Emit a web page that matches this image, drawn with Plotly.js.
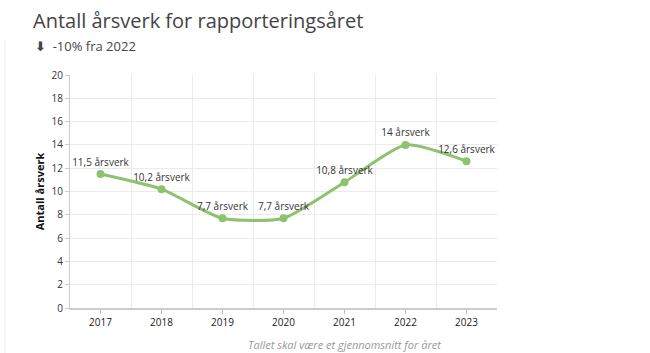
<!DOCTYPE html>
<html>
<head>
<meta charset="utf-8">
<script src="https://cdn.plot.ly/plotly-3.0.1.min.js"></script>
<style>html,body{margin:0;padding:0;background:#fff;}#chart{width:650px;height:353px;}</style>
</head>
<body>
<div id="chart"></div>
<script>
const years = ["2017", "2018", "2019", "2020", "2021", "2022", "2023"];
const arsverk = [11.5, 10.2, 7.7, 7.7, 10.8, 14, 12.6];
const unit = "årsverk";
const yTicks = [0, 2, 4, 6, 8, 10, 12, 14, 16, 18, 20];

const labels = arsverk.map(v => String(v).replace('.', ',') + ' ' + unit);
const green = '#8dc26f';
const font = '"Open Sans", "DejaVu Sans", sans-serif';

const traces = [
  {
    x: years, y: arsverk, type: 'scatter', mode: 'lines+markers+text',
    line: {shape: 'spline', smoothing: 0.6, color: green, width: 3},
    marker: {color: green, size: 8},
    text: labels, textposition: 'top center',
    textfont: {family: font, size: 10, color: '#333'},
    cliponaxis: false, hoverinfo: 'skip', showlegend: false
  },
  {
    x: years, y: arsverk, xaxis: 'x2', type: 'scatter', mode: 'markers',
    marker: {opacity: 0, size: 1}, hoverinfo: 'skip', showlegend: false
  }
];

const layout = {
  width: 650, height: 353,
  margin: {l: 70, r: 153, t: 75, b: 45},
  paper_bgcolor: '#fff', plot_bgcolor: '#fff',
  font: {family: font, color: '#333'},
  title: {
    text: 'Antall årsverk for rapporteringsåret',
    xref: 'container', x: 33 / 650, xanchor: 'left',
    yref: 'container', y: 1 - 21 / 353, yanchor: 'middle',
    font: {family: font, size: 20, color: '#444'},
    pad: {l: 0, t: 0, b: 0, r: 0}
  },
  xaxis: {
    type: 'category', range: [-0.5, 6.5], showgrid: false,
    ticks: 'outside', ticklen: 4, tickcolor: '#bbb',
    showline: true, linecolor: '#ccc', linewidth: 2,
    tickfont: {family: font, size: 10, color: '#222'},
    zeroline: false, fixedrange: true
  },
  xaxis2: {
    type: 'category', overlaying: 'x', matches: 'x', range: [-0.5, 6.5],
    tickson: 'boundaries', showgrid: true, gridcolor: '#ebebeb', gridwidth: 1,
    showticklabels: false, ticks: '', showline: false, zeroline: false
  },
  yaxis: {
    range: [0, 20], tickvals: yTicks, showgrid: true, gridcolor: '#ebebeb',
    ticks: 'outside', ticklen: 4, tickcolor: '#ccc',
    showline: true, linecolor: '#ccc', linewidth: 1, zeroline: false,
    tickfont: {family: font, size: 10, color: '#333'},
    title: {text: '<b>Antall årsverk</b>', font: {family: font, size: 11, color: '#111'}, standoff: 4},
    fixedrange: true
  },
  annotations: [
    {
      text: '<b>⬇</b>  -10% fra 2022', xref: 'paper', yref: 'paper',
      x: -0.087, xanchor: 'left', y: 1.124, yanchor: 'middle', showarrow: false,
      font: {family: font, size: 13, color: '#444'}
    },
    {
      text: '<i>Tallet skal være et gjennomsnitt for året</i>', xref: 'paper', yref: 'paper',
      x: 0.642, xanchor: 'center', y: -0.155, yanchor: 'middle', showarrow: false,
      font: {family: font, size: 11, color: '#999'}
    }
  ],
  shapes: [
    {type: 'line', xref: 'paper', yref: 'paper', x0: -0.152, x1: -0.152, y0: -0.2, y1: 1.15,
     line: {color: '#eeeeee', width: 1}}
  ]
};

Plotly.newPlot('chart', traces, layout, {displayModeBar: false, staticPlot: true});
</script>
</body>
</html>
